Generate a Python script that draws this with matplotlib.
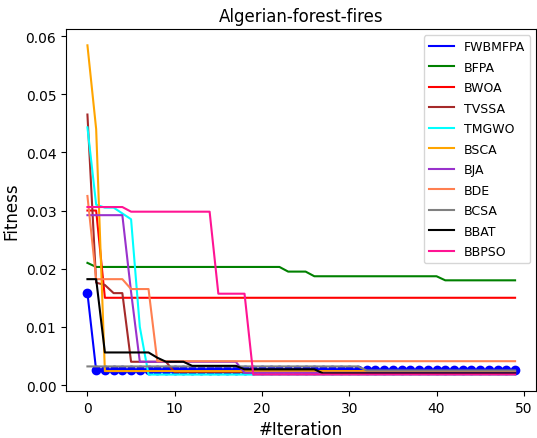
import numpy as np
import matplotlib
matplotlib.use("Agg")
import matplotlib.pyplot as plt

iterations = np.arange(50)

# fitness per iteration (step values)
fwbmfpa = [0.0158] + [0.0025] * 49
bfpa = [0.0210] + [0.0203] * 22 + [0.0195] * 3 + [0.0187] * 15 + [0.0180] * 9
bwoa = [0.0300, 0.0300] + [0.0150] * 48
tvssa = [0.0465, 0.0176, 0.0172, 0.0158, 0.0158] + [0.0040] * 5 + [0.0022] * 40
tmgwo = [0.0443, 0.0310, 0.0305, 0.0305, 0.0295, 0.0285, 0.0100] + [0.0018] * 43
bsca = [0.0584, 0.0440] + [0.0024] * 48
bja = [0.0292] * 5 + [0.0160] + [0.0040] * 12 + [0.0021] * 32
bde = [0.0325] + [0.0182] * 4 + [0.0165] * 3 + [0.0041] * 42
bcsa = [0.0032] * 32 + [0.0025] * 18
bbat = ([0.0182, 0.0182] + [0.0056] * 6 + [0.0047] + [0.0040] * 3
        + [0.0033] * 6 + [0.0027] * 9 + [0.0020] * 23)
bbpso = [0.0306] * 5 + [0.0298] * 10 + [0.0157] * 4 + [0.0018] * 31

series = [
    ("FWBMFPA", fwbmfpa, "blue"),
    ("BFPA", bfpa, "green"),
    ("BWOA", bwoa, "red"),
    ("TVSSA", tvssa, "brown"),
    ("TMGWO", tmgwo, "cyan"),
    ("BSCA", bsca, "orange"),
    ("BJA", bja, "darkorchid"),
    ("BDE", bde, "coral"),
    ("BCSA", bcsa, "grey"),
    ("BBAT", bbat, "black"),
    ("BBPSO", bbpso, "deeppink"),
]

fig, ax = plt.subplots(figsize=(5.37, 4.39), dpi=100)

for name, vals, color in series:
    ax.plot(iterations, vals, color=color, lw=1.5, label=name)
    if name == "FWBMFPA":
        # markers drawn separately so the legend shows a plain line
        ax.plot(iterations, vals, color=color, lw=0, marker="o", markersize=6)

ax.set_title("Algerian-forest-fires", fontsize=12)
ax.set_xlabel("#Iteration", fontsize=12)
ax.set_ylabel("Fitness", fontsize=12)
ax.legend(loc="upper right", fontsize=9, labelspacing=0.6)

fig.subplots_adjust(left=0.123, right=0.999, top=0.932, bottom=0.107)
fig.savefig("out.png", dpi=100)
